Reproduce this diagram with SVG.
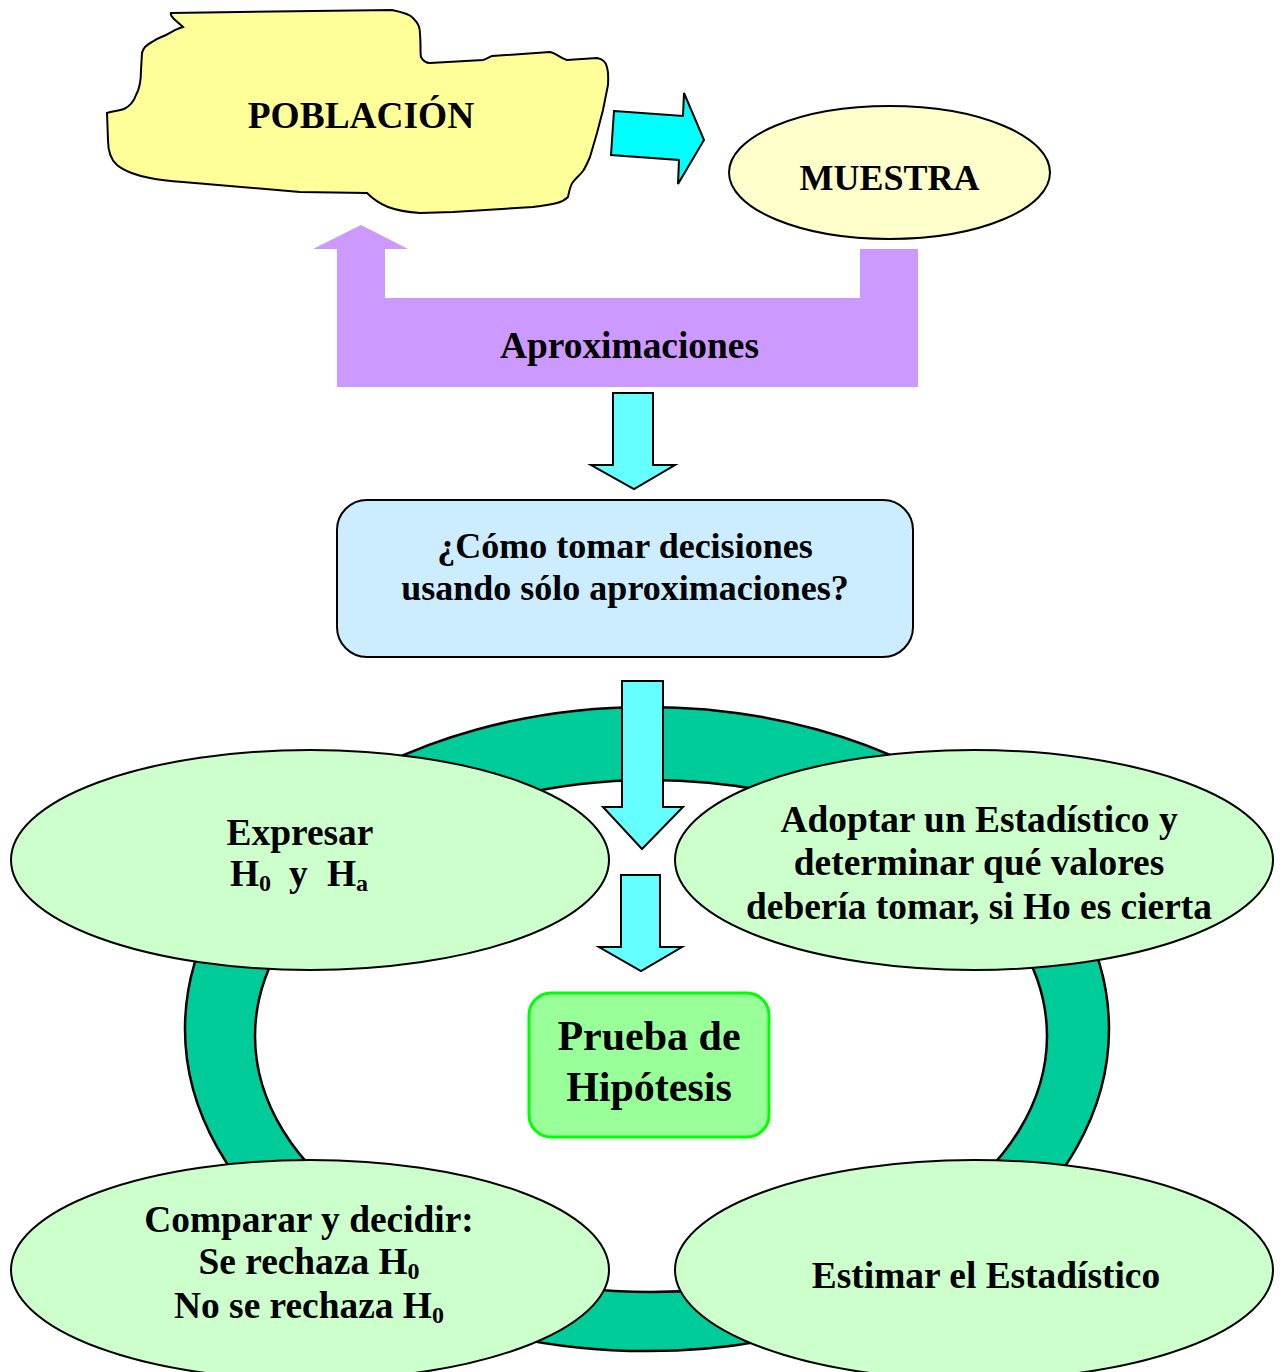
<svg xmlns="http://www.w3.org/2000/svg" width="1280" height="1372" viewBox="0 0 1280 1372">
<style>
text{font-family:"Liberation Serif","Times New Roman",serif;font-weight:bold;font-size:36px;fill:#000;text-anchor:middle}
.big{font-size:37.4px}
.sub{font-size:24px}
.ell{fill:#CCFFCC;stroke:#000;stroke-width:2}
.cyan{fill:#66FFFF;stroke:#000;stroke-width:2}
</style>
<rect width="1280" height="1372" fill="#fff"/>
<g id="ring">
<path d="M185,1029 A462,322 0 1,0 1109,1029 A462,322 0 1,0 185,1029 Z M255,1036 A396,256 0 1,0 1047,1036 A396,256 0 1,0 255,1036 Z" fill="#00CC99" fill-rule="evenodd" stroke="#000" stroke-width="2.5"/>
</g>
<g id="connectors">
<path d="M614,111 L683,116 L684,93 L704,140 L678,184 L679,160 L611,155 Z" fill="#00FFFF" stroke="#000" stroke-width="2"/>
<path d="M361,225 L408,249 L385,249 L385,298 L860,298 L860,249 L918,249 L918,387 L337,387 L337,249 L313,249 Z" fill="#CC99FF"/>
<path class="cyan" d="M613,393 L653,393 L653,465 L675,465 L634,489 L591,465 L613,465 Z"/>
<path class="cyan" d="M622,681 L663,681 L663,807 L683,807 L642,849 L603,807 L622,807 Z"/>
<path class="cyan" d="M621,875 L660,875 L660,947 L682,947 L641,971 L599,947 L621,947 Z"/>
</g>
<g id="poblacion">
<path d="M171,13 L392,10 C402,12 410,14 413,18 C419,24 420,28 420,34 C421,45 420,52 421,57 C423,61 425,63 430,63 L483,60 C487,59 489,57 492,56 L550,52 C556,53 560,58 567,60 L597,58 C602,59 606,62 607,67 C609,75 608,79 608,85 L603,110 L597,133 L590,157 C587,164 585,168 583,171 C580,175 576,178 573,182 C570,186 569,192 568,197 C565,200 561,202 557,203 C549,205 541,206 533,207 L453,212 L420,213 C405,212 396,210 388,207 C378,203 372,198 367,193 L300,192 L183,182 C170,181 160,180 150,178 C138,176 124,171 117,165 C110,159 108,150 108,140 L107,113 C112,111 118,111 124,109 C130,106 134,101 136,95 C140,88 141,80 141,70 L142,53 C143,48 146,45 152,42 C157,38 162,37 166,35 C170,33 174,30 180,28 L183,27 C180,24 176,21 174,19 C172,17 170,15 171,13 Z" fill="#FFFF99" stroke="#000" stroke-width="2"/>
<text class="big" x="361" y="128">POBLACIÓN</text>
</g>
<g id="muestra">
<ellipse cx="889.5" cy="172.5" rx="160.5" ry="66.5" fill="#FFFFCC" stroke="#000" stroke-width="2"/>
<text x="889.5" y="190">MUESTRA</text>
</g>
<g id="aproximaciones">
<text class="big" x="629.5" y="358">Aproximaciones</text>
</g>
<g id="pregunta">
<rect x="337" y="500" width="576" height="157" rx="30" fill="#CCECFF" stroke="#000" stroke-width="2"/>
<text x="625" y="558">¿Cómo tomar decisiones</text>
<text x="625" y="600">usando sólo aproximaciones?</text>
</g>
<g id="expresar">
<ellipse class="ell" cx="310" cy="860" rx="299" ry="110"/>
<text class="big" x="300" y="845">Expresar</text>
<text class="big" x="230" y="886" style="text-anchor:start">H<tspan class="sub" dy="5">0</tspan><tspan x="289" dy="-5">y</tspan><tspan x="327">H</tspan><tspan class="sub" dy="5">a</tspan></text>
</g>
<g id="adoptar">
<ellipse class="ell" cx="974" cy="860" rx="299" ry="110"/>
<text class="big" x="979" y="832">Adoptar un Estadístico y</text>
<text class="big" x="979" y="875">determinar qué valores</text>
<text class="big" x="979" y="919">debería tomar, si Ho es cierta</text>
</g>
<g id="comparar">
<ellipse class="ell" cx="310" cy="1270" rx="299" ry="110"/>
<text class="big" x="309" y="1232">Comparar y decidir:</text>
<text class="big" x="309" y="1274">Se rechaza H<tspan class="sub" dy="5">0</tspan></text>
<text class="big" x="309" y="1318">No se rechaza H<tspan class="sub" dy="5">0</tspan></text>
</g>
<g id="estimar">
<ellipse class="ell" cx="974" cy="1270" rx="299" ry="110"/>
<text class="big" x="986" y="1288">Estimar el Estadístico</text>
</g>
<g id="prueba">
<rect x="529" y="993" width="240" height="144" rx="22" fill="#99FF99" stroke="#00FF00" stroke-width="3"/>
<text x="649" y="1050" style="font-size:42px">Prueba de</text>
<text x="649" y="1101" style="font-size:42px">Hipótesis</text>
</g>
</svg>
